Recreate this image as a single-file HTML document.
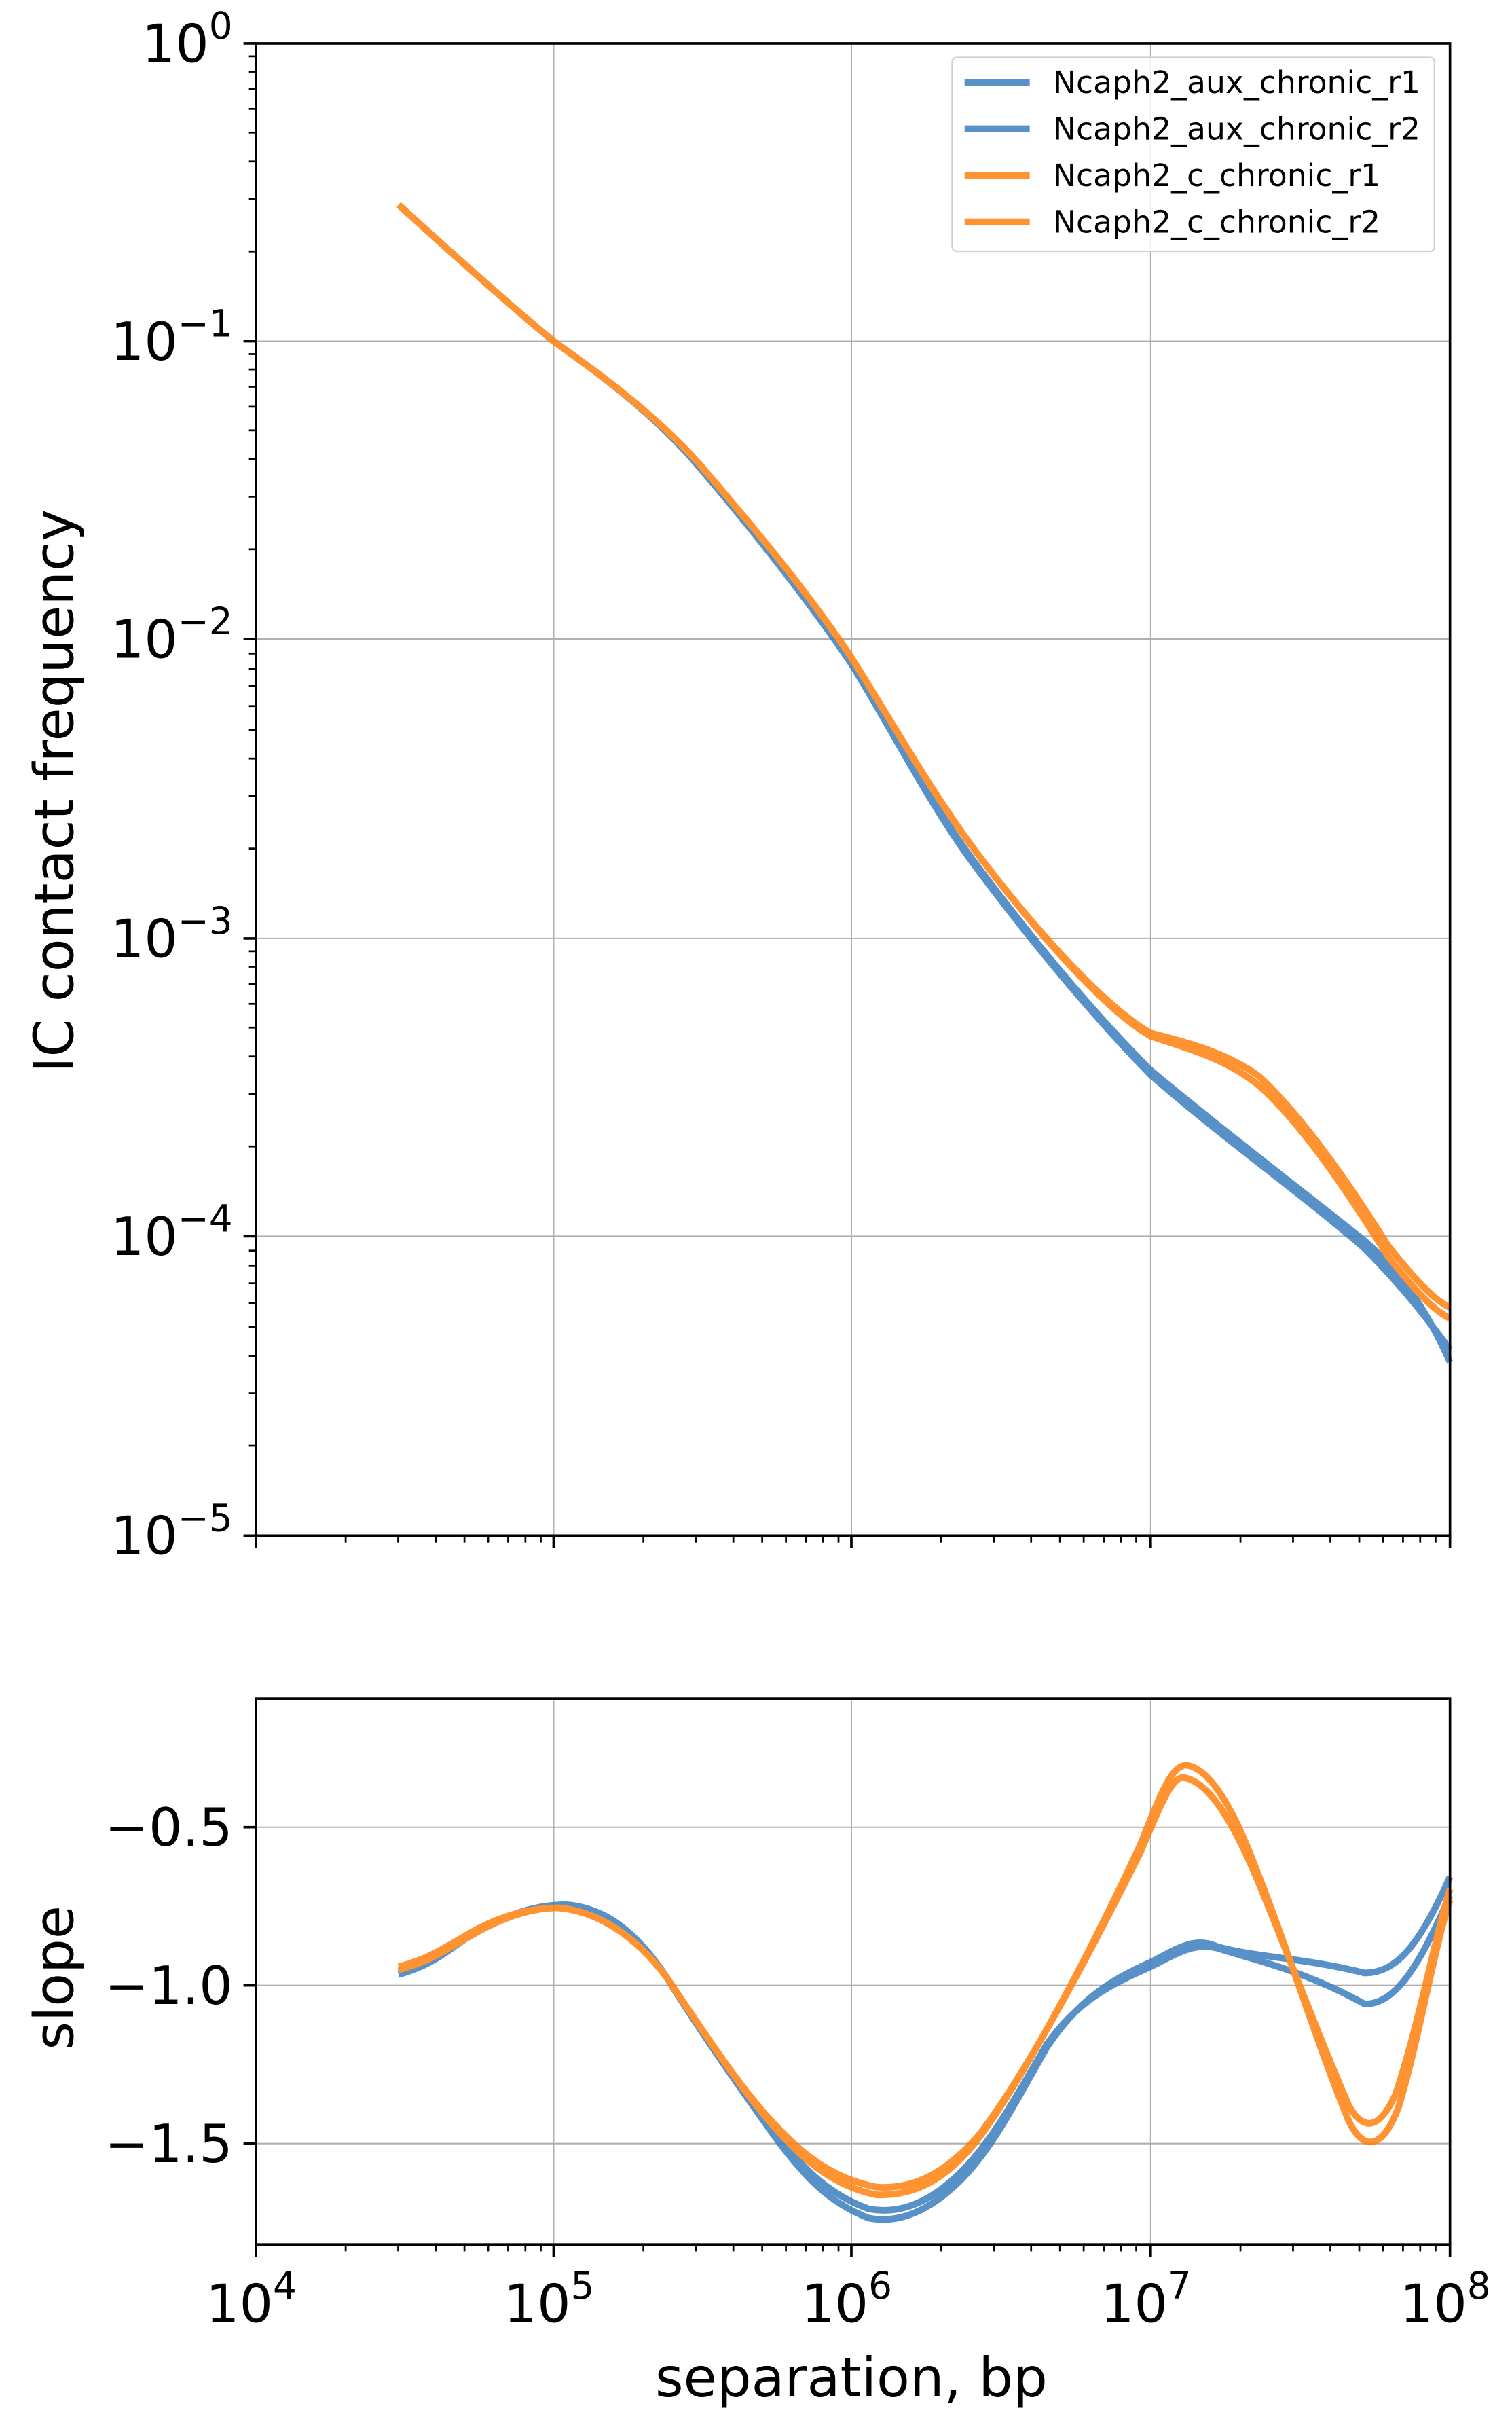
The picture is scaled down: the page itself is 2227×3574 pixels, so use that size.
<!DOCTYPE html>
<html><head><meta charset="utf-8"><style>html,body{margin:0;padding:0;background:#fff}svg{display:block}</style></head>
<body>
<svg width="2227" height="3574" viewBox="0 0 975 1564.7" preserveAspectRatio="none" xmlns="http://www.w3.org/2000/svg" font-family="DejaVu Sans, Liberation Sans, sans-serif">
<defs>
<g id="ymin"><path d="M165 0h-4.5" stroke="#000" stroke-width="1.2" fill="none"/></g>
<g id="ydec">
<use href="#ymin" y="-57.9"/><use href="#ymin" y="-91.8"/><use href="#ymin" y="-115.9"/><use href="#ymin" y="-134.5"/><use href="#ymin" y="-149.8"/><use href="#ymin" y="-162.7"/><use href="#ymin" y="-173.8"/><use href="#ymin" y="-183.7"/>
</g>
<g id="xdec" stroke="#000" stroke-width="1.2">
<path d="M57.9 0v4.5M91.8 0v4.5M115.9 0v4.5M134.5 0v4.5M149.8 0v4.5M162.7 0v4.5M173.8 0v4.5M183.7 0v4.5"/>
</g>
</defs>
<rect width="975" height="1565" fill="#fff"/>
<g stroke="#b0b0b0" stroke-width="0.9">
<path d="M357 28V990M549 28V990M742 28V990"/>
<path d="M165 220H935M165 412H935M165 605H935M165 797H935"/>
</g>
<g fill="none" stroke-width="4.3" stroke-linejoin="round" stroke-linecap="butt" opacity="0.85">
<path stroke="#3a7ebf" d="M257 132 C290 162,330 198,357 220 C385 240,420 265,450 300 C480 335,520 385,549 428 C575 470,600 520,630 560 C660 600,700 650,742 693 C790 735,840 770,880 805 C905 830,920 850,935 870"/>
<path stroke="#3a7ebf" d="M257 132 C290 162,330 198,357 220 C385 240,420 265,450 300 C480 335,520 385,549 428 C575 470,600 518,630 558 C660 598,700 648,742 690 C790 730,840 768,880 800 C905 822,920 845,935 878"/>
<path stroke="#ff7f0e" d="M257 132 C290 162,330 198,357 220 C385 240,420 265,450 298 C480 333,520 380,549 424 C575 465,600 510,630 550 C660 590,710 650,742 668 C765 676,790 682,812 700 C840 725,870 770,895 810 C915 835,925 845,935 850"/>
<path stroke="#ff7f0e" d="M257 132 C290 162,330 198,357 220 C385 240,420 265,450 298 C480 333,520 380,549 424 C575 465,600 510,630 550 C660 590,710 648,742 666 C765 672,790 678,812 694 C840 720,870 763,895 803 C915 828,925 838,935 843"/>
</g>
<rect x="165" y="28" width="770" height="962" fill="none" stroke="#000" stroke-width="1.6"/>
<g stroke="#000" stroke-width="1.6"><path d="M165 28h-8M165 220h-8M165 412h-8M165 605h-8M165 797h-8M165 990h-8"/></g>
<use href="#ydec" y="220"/><use href="#ydec" y="412"/><use href="#ydec" y="605"/><use href="#ydec" y="797"/><use href="#ydec" y="990"/>
<g stroke="#000" stroke-width="1.6"><path d="M165 990v8M357 990v8M549 990v8M742 990v8M935 990v8"/></g>
<use href="#xdec" x="165" y="990"/><use href="#xdec" x="357" y="990"/><use href="#xdec" x="549" y="990"/><use href="#xdec" x="742" y="990"/>
<g font-size="34" text-anchor="end" fill="#000">
<text x="150" y="40">10<tspan dy="-15" font-size="24">0</tspan></text>
<text x="150" y="232">10<tspan dy="-15" font-size="24">−1</tspan></text>
<text x="150" y="424">10<tspan dy="-15" font-size="24">−2</tspan></text>
<text x="150" y="617">10<tspan dy="-15" font-size="24">−3</tspan></text>
<text x="150" y="809">10<tspan dy="-15" font-size="24">−4</tspan></text>
<text x="150" y="1002">10<tspan dy="-15" font-size="24">−5</tspan></text>
</g>
<text transform="translate(47 510) rotate(-90)" font-size="35" text-anchor="middle">IC contact frequency</text>
<rect x="614" y="37" width="311" height="125" rx="3" fill="#fff" fill-opacity="0.8" stroke="#d0d0d0" stroke-width="1"/>
<g stroke-width="4.3" opacity="0.85"><path d="M622 53h42M622 83h42" stroke="#3a7ebf"/><path d="M622 113h42M622 143h42" stroke="#ff7f0e"/></g>
<g font-size="20" fill="#000" textLength="236">
<text x="679" y="60">Ncaph2_aux_chronic_r1</text>
<text x="679" y="90">Ncaph2_aux_chronic_r2</text>
<text x="679" y="120">Ncaph2_c_chronic_r1</text>
<text x="679" y="150">Ncaph2_c_chronic_r2</text>
</g>
<g stroke="#b0b0b0" stroke-width="0.9">
<path d="M357 1095V1447M549 1095V1447M742 1095V1447"/>
<path d="M165 1178H935M165 1280H935M165 1382H935"/>
</g>
<g fill="none" stroke-width="4.3" stroke-linejoin="round" opacity="0.85">
<path stroke="#3a7ebf" d="M257 1273 C275 1268,283 1262,300 1250 C320 1238,340 1228,365 1228 C390 1230,410 1245,430 1275 C455 1315,480 1350,500 1378 C520 1405,535 1420,560 1430 C580 1434,600 1425,620 1405 C640 1385,655 1355,675 1320 C695 1290,715 1277,742 1265 C758 1257,770 1248,785 1255 C810 1262,840 1262,880 1272 C900 1272,915 1255,935 1210"/>
<path stroke="#3a7ebf" d="M257 1271 C275 1266,283 1260,300 1250 C320 1238,340 1228,365 1228 C390 1230,410 1245,430 1275 C455 1315,480 1350,500 1376 C520 1400,535 1415,560 1424 C580 1428,600 1420,620 1400 C640 1380,655 1352,675 1318 C695 1290,715 1280,742 1268 C758 1260,770 1252,785 1256 C810 1264,840 1270,880 1292 C900 1292,915 1268,935 1222"/>
<path stroke="#ff7f0e" d="M257 1270 C275 1265,283 1260,300 1250 C320 1238,340 1230,360 1230 C385 1232,410 1248,430 1275 C455 1312,480 1350,500 1372 C520 1395,540 1410,565 1415 C590 1416,610 1405,630 1380 C660 1340,700 1265,735 1190 C748 1158,755 1138,765 1138 C780 1140,795 1165,810 1205 C830 1255,850 1320,870 1368 C880 1388,892 1385,902 1358 C915 1315,925 1255,935 1225"/>
<path stroke="#ff7f0e" d="M257 1268 C275 1263,283 1258,300 1248 C320 1236,340 1230,360 1230 C385 1232,410 1248,430 1275 C455 1312,480 1350,500 1370 C520 1392,540 1405,565 1410 C590 1412,610 1400,630 1378 C660 1340,700 1265,735 1195 C748 1165,755 1146,763 1146 C778 1148,793 1170,810 1210 C830 1258,850 1312,870 1358 C880 1375,890 1372,900 1350 C915 1305,925 1250,935 1218"/>
</g>
<rect x="165" y="1095" width="770" height="352" fill="none" stroke="#000" stroke-width="1.6"/>
<g stroke="#000" stroke-width="1.6"><path d="M165 1178h-8M165 1280h-8M165 1382h-8"/><path d="M165 1447v8M357 1447v8M549 1447v8M742 1447v8M935 1447v8"/></g>
<use href="#xdec" x="165" y="1447"/><use href="#xdec" x="357" y="1447"/><use href="#xdec" x="549" y="1447"/><use href="#xdec" x="742" y="1447"/>
<g font-size="34" text-anchor="end" fill="#000">
<text x="150" y="1190">−0.5</text>
<text x="150" y="1292">−1.0</text>
<text x="150" y="1394">−1.5</text>
</g>
<text transform="translate(47 1275) rotate(-90)" font-size="35" text-anchor="middle">slope</text>
<g font-size="34" text-anchor="middle" fill="#000">
<text x="162" y="1497">10<tspan dy="-15" font-size="24">4</tspan></text>
<text x="354" y="1497">10<tspan dy="-15" font-size="24">5</tspan></text>
<text x="546" y="1497">10<tspan dy="-15" font-size="24">6</tspan></text>
<text x="739" y="1497">10<tspan dy="-15" font-size="24">7</tspan></text>
<text x="932" y="1497">10<tspan dy="-15" font-size="24">8</tspan></text>
</g>
<text x="549" y="1545" font-size="35" text-anchor="middle">separation, bp</text>
</svg>
</body></html>
